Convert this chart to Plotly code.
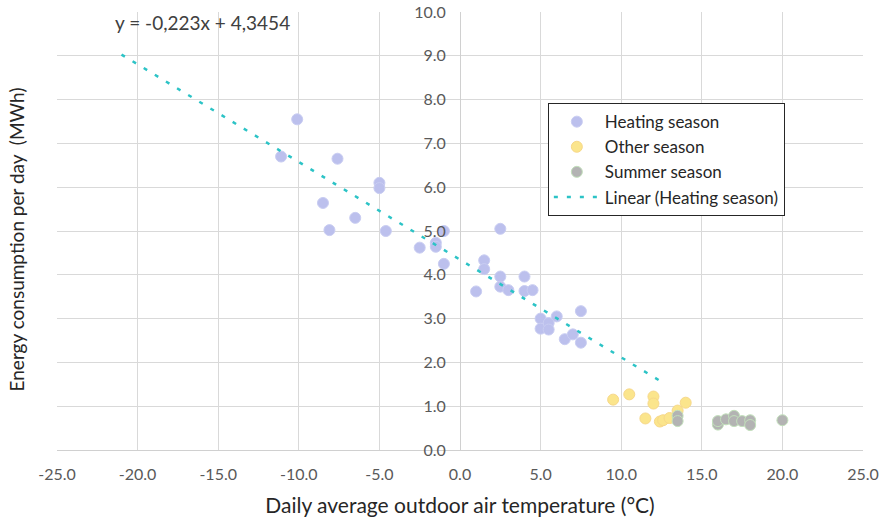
import plotly.graph_objects as go

# Heating season
heat_x = [-11.1, -10.1, -7.6, -8.5, -8.1, -6.5, -5.0, -5.0, -4.6, -2.5, -1.5, -1.5, -1.0, -1.0,
          1.0, 1.5, 1.5, 2.5, 2.5, 2.5, 3.0, 4.0, 4.0, 4.5, 5.0, 5.0, 5.5, 5.5, 6.0, 6.5, 7.0, 7.5, 7.5]
heat_y = [6.70, 7.55, 6.65, 5.64, 5.02, 5.30, 6.10, 5.98, 5.00, 4.62, 4.73, 4.64, 5.00, 4.25,
          3.62, 4.33, 4.13, 5.05, 3.96, 3.73, 3.65, 3.96, 3.63, 3.65, 3.00, 2.77, 2.90, 2.75, 3.05, 2.53, 2.64, 3.17, 2.45]

# Other season
other_x = [9.5, 10.5, 12.0, 12.0, 11.5, 12.4, 12.6, 13.0, 13.5, 14.0]
other_y = [1.15, 1.27, 1.22, 1.06, 0.72, 0.65, 0.68, 0.73, 0.90, 1.08]

# Summer season
summer_x = [13.5, 13.5, 16.0, 16.0, 16.5, 17.0, 17.0, 17.5, 18.0, 18.0, 20.0]
summer_y = [0.78, 0.66, 0.58, 0.66, 0.70, 0.78, 0.66, 0.66, 0.68, 0.57, 0.68]

# Linear trend (Heating season)
trend_slope = -0.223
trend_intercept = 4.3454
trend_x = [-21.0, 12.5]
trend_y = [trend_slope * x + trend_intercept for x in trend_x]
equation_text = "y = -0,223x + 4,3454"

x_ticks = [-25, -20, -15, -10, -5, 0, 5, 10, 15, 20, 25]
x_ticktext = ["-25.0", "-20.0", "-15.0", "-10.0", "-5.0", "0.0", "5.0", "10.0", "15.0", "20.0", "25.0"]
y_ticks = [0, 1, 2, 3, 4, 5, 6, 7, 8, 9, 10]
y_ticktext = ["0.0", "1.0", "2.0", "3.0", "4.0", "5.0", "6.0", "7.0", "8.0", "9.0", "10.0"]

FONT = "Lato, Open Sans, sans-serif"

fig = go.Figure()
fig.add_trace(go.Scatter(x=heat_x, y=heat_y, mode="markers", name="Heating season",
                         legendgroup="a",
                         marker=dict(size=11, color="#bcc0ed", line=dict(color="#c9cdf2", width=1))))
fig.add_trace(go.Scatter(x=other_x, y=other_y, mode="markers", name="Other season",
                         legendgroup="b",
                         marker=dict(size=11, color="#fbe58c", line=dict(color="#f7d88a", width=1))))
fig.add_trace(go.Scatter(x=summer_x, y=summer_y, mode="markers", name="Summer season",
                         legendgroup="c",
                         marker=dict(size=11, color="#b3b3b3", line=dict(color="#c2e0bb", width=1))))
fig.add_trace(go.Scatter(x=trend_x, y=trend_y, mode="lines", name="Linear (Heating season)",
                         legendgroup="d",
                         line=dict(color="#2cc3c6", width=2.5, dash="4px,9px")))

fig.add_annotation(x=-16.0, y=9.77, text=equation_text, showarrow=False,
                   font=dict(family=FONT, size=19, color="#404040"))
fig.add_annotation(xref="paper", yref="paper", x=-0.05, y=0.48, text="Energy consumption per day  (MWh)",
                   textangle=-90, showarrow=False, xanchor="center", yanchor="middle",
                   font=dict(family=FONT, size=19, color="#262626"))

fig.update_layout(
    width=883, height=523,
    margin=dict(l=57, r=20, t=12, b=73),
    plot_bgcolor="white", paper_bgcolor="white",
    showlegend=True,
    legend=dict(x=0.609, y=0.792, xanchor="left", yanchor="top",
                bordercolor="#262626", borderwidth=1, bgcolor="white",
                font=dict(family=FONT, size=17, color="#262626"),
                tracegroupgap=0, itemwidth=46),
    xaxis=dict(range=[-25, 25], tickvals=x_ticks, ticktext=x_ticktext,
               showgrid=True, gridcolor="#d9d9d9", gridwidth=1,
               zeroline=False, showline=True, linecolor="#d0d0d0",
               ticklabelstandoff=10, automargin=False,
               tickfont=dict(family=FONT, size=16, color="#595959"),
               title=dict(text="Daily average outdoor air temperature (°C)", standoff=16,
                          font=dict(family=FONT, size=21, color="#262626"))),
    yaxis=dict(range=[0, 10], tickvals=y_ticks, ticktext=y_ticktext,
               anchor="free", position=0.5, automargin=False,
               showgrid=True, gridcolor="#d9d9d9", gridwidth=1,
               zeroline=False, showline=True, linecolor="#d0d0d0",
               ticklabelstandoff=11,
               tickfont=dict(family=FONT, size=16, color="#595959")),
)

fig.write_html("out.html", config={"displayModeBar": False},
               post_script="document.body.style.margin='0px';")
